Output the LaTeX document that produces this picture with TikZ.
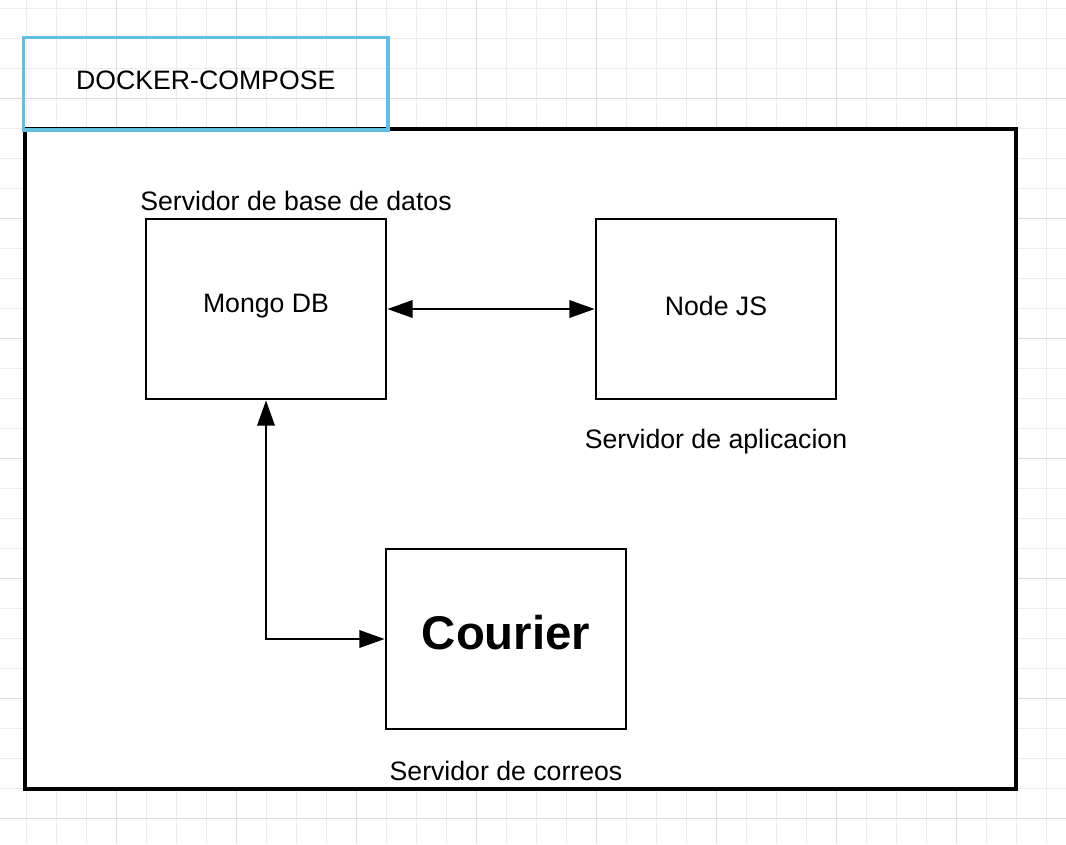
\documentclass[tikz,border=0pt]{standalone}
\usepackage{fontspec}
\setmainfont{Liberation Sans}
\usepackage{tikz}
\usetikzlibrary{arrows.meta,calc,positioning}
\definecolor{gridminor}{RGB}{236,236,236}
\definecolor{gridmajor}{RGB}{221,221,221}
\definecolor{composeblue}{RGB}{100,190,226}

\begin{document}
\begin{tikzpicture}[x=0.75pt,y=-0.75pt,
  every node/.style={font=\fontsize{20}{24}\selectfont},
  server/.style={draw, line width=2pt, minimum width=180pt, minimum height=135pt, fill=white},
  link/.style={line width=1.9pt, {Triangle[length=19pt,width=13pt]}-{Triangle[length=19pt,width=13pt]}}]
\useasboundingbox (0,0) rectangle (1066,844);
% background grid
\foreach \x in {-3.3,26.7,...,1070} \draw[gridminor, line width=0.8pt] (\x,0) -- (\x,844);
\foreach \y in {8.3,38.3,...,850} \draw[gridminor, line width=0.8pt] (0,\y) -- (1066,\y);
\foreach \x in {116.7,236.7,...,1070} \draw[gridmajor, line width=0.8pt] (\x,0) -- (\x,844);
\foreach \y in {98.3,218.3,...,850} \draw[gridmajor, line width=0.8pt] (0,\y) -- (1066,\y);
% compose frame
\draw[line width=2.6pt, fill=white] (25,129) rectangle (1016,789);
\node[draw=composeblue, line width=2.3pt, minimum width=273.4pt, minimum height=69.7pt] (Compose) at (205.7,83.5) {};
\node at ($(Compose)+(0,-3)$) {DOCKER-COMPOSE};
% servers
\node[server] (Mongo) at (266,309) {};
\node[server] (Node) at (716,309) {};
\node[server] (Courier) at (506,639) {};
\node at ($(Mongo)+(0,-3)$) {Mongo DB};
\node at ($(Node)+(0,-3)$) {Node JS};
\node[font=\fontsize{35.5}{40}\selectfont\bfseries] at ($(Courier)+(0,-6)$) {Courier};
\node (MongoLbl) at (296,201) {Servidor de base de datos};
\node (NodeLbl) at (716,442) {Servidor de aplicacion};
\node (CourierLbl) at (506,771) {Servidor de correos};
% links
\draw[link] (Mongo.east) -- (Node.west);
\draw[link] (Mongo.south) |- (Courier.west);
\end{tikzpicture}
\end{document}
